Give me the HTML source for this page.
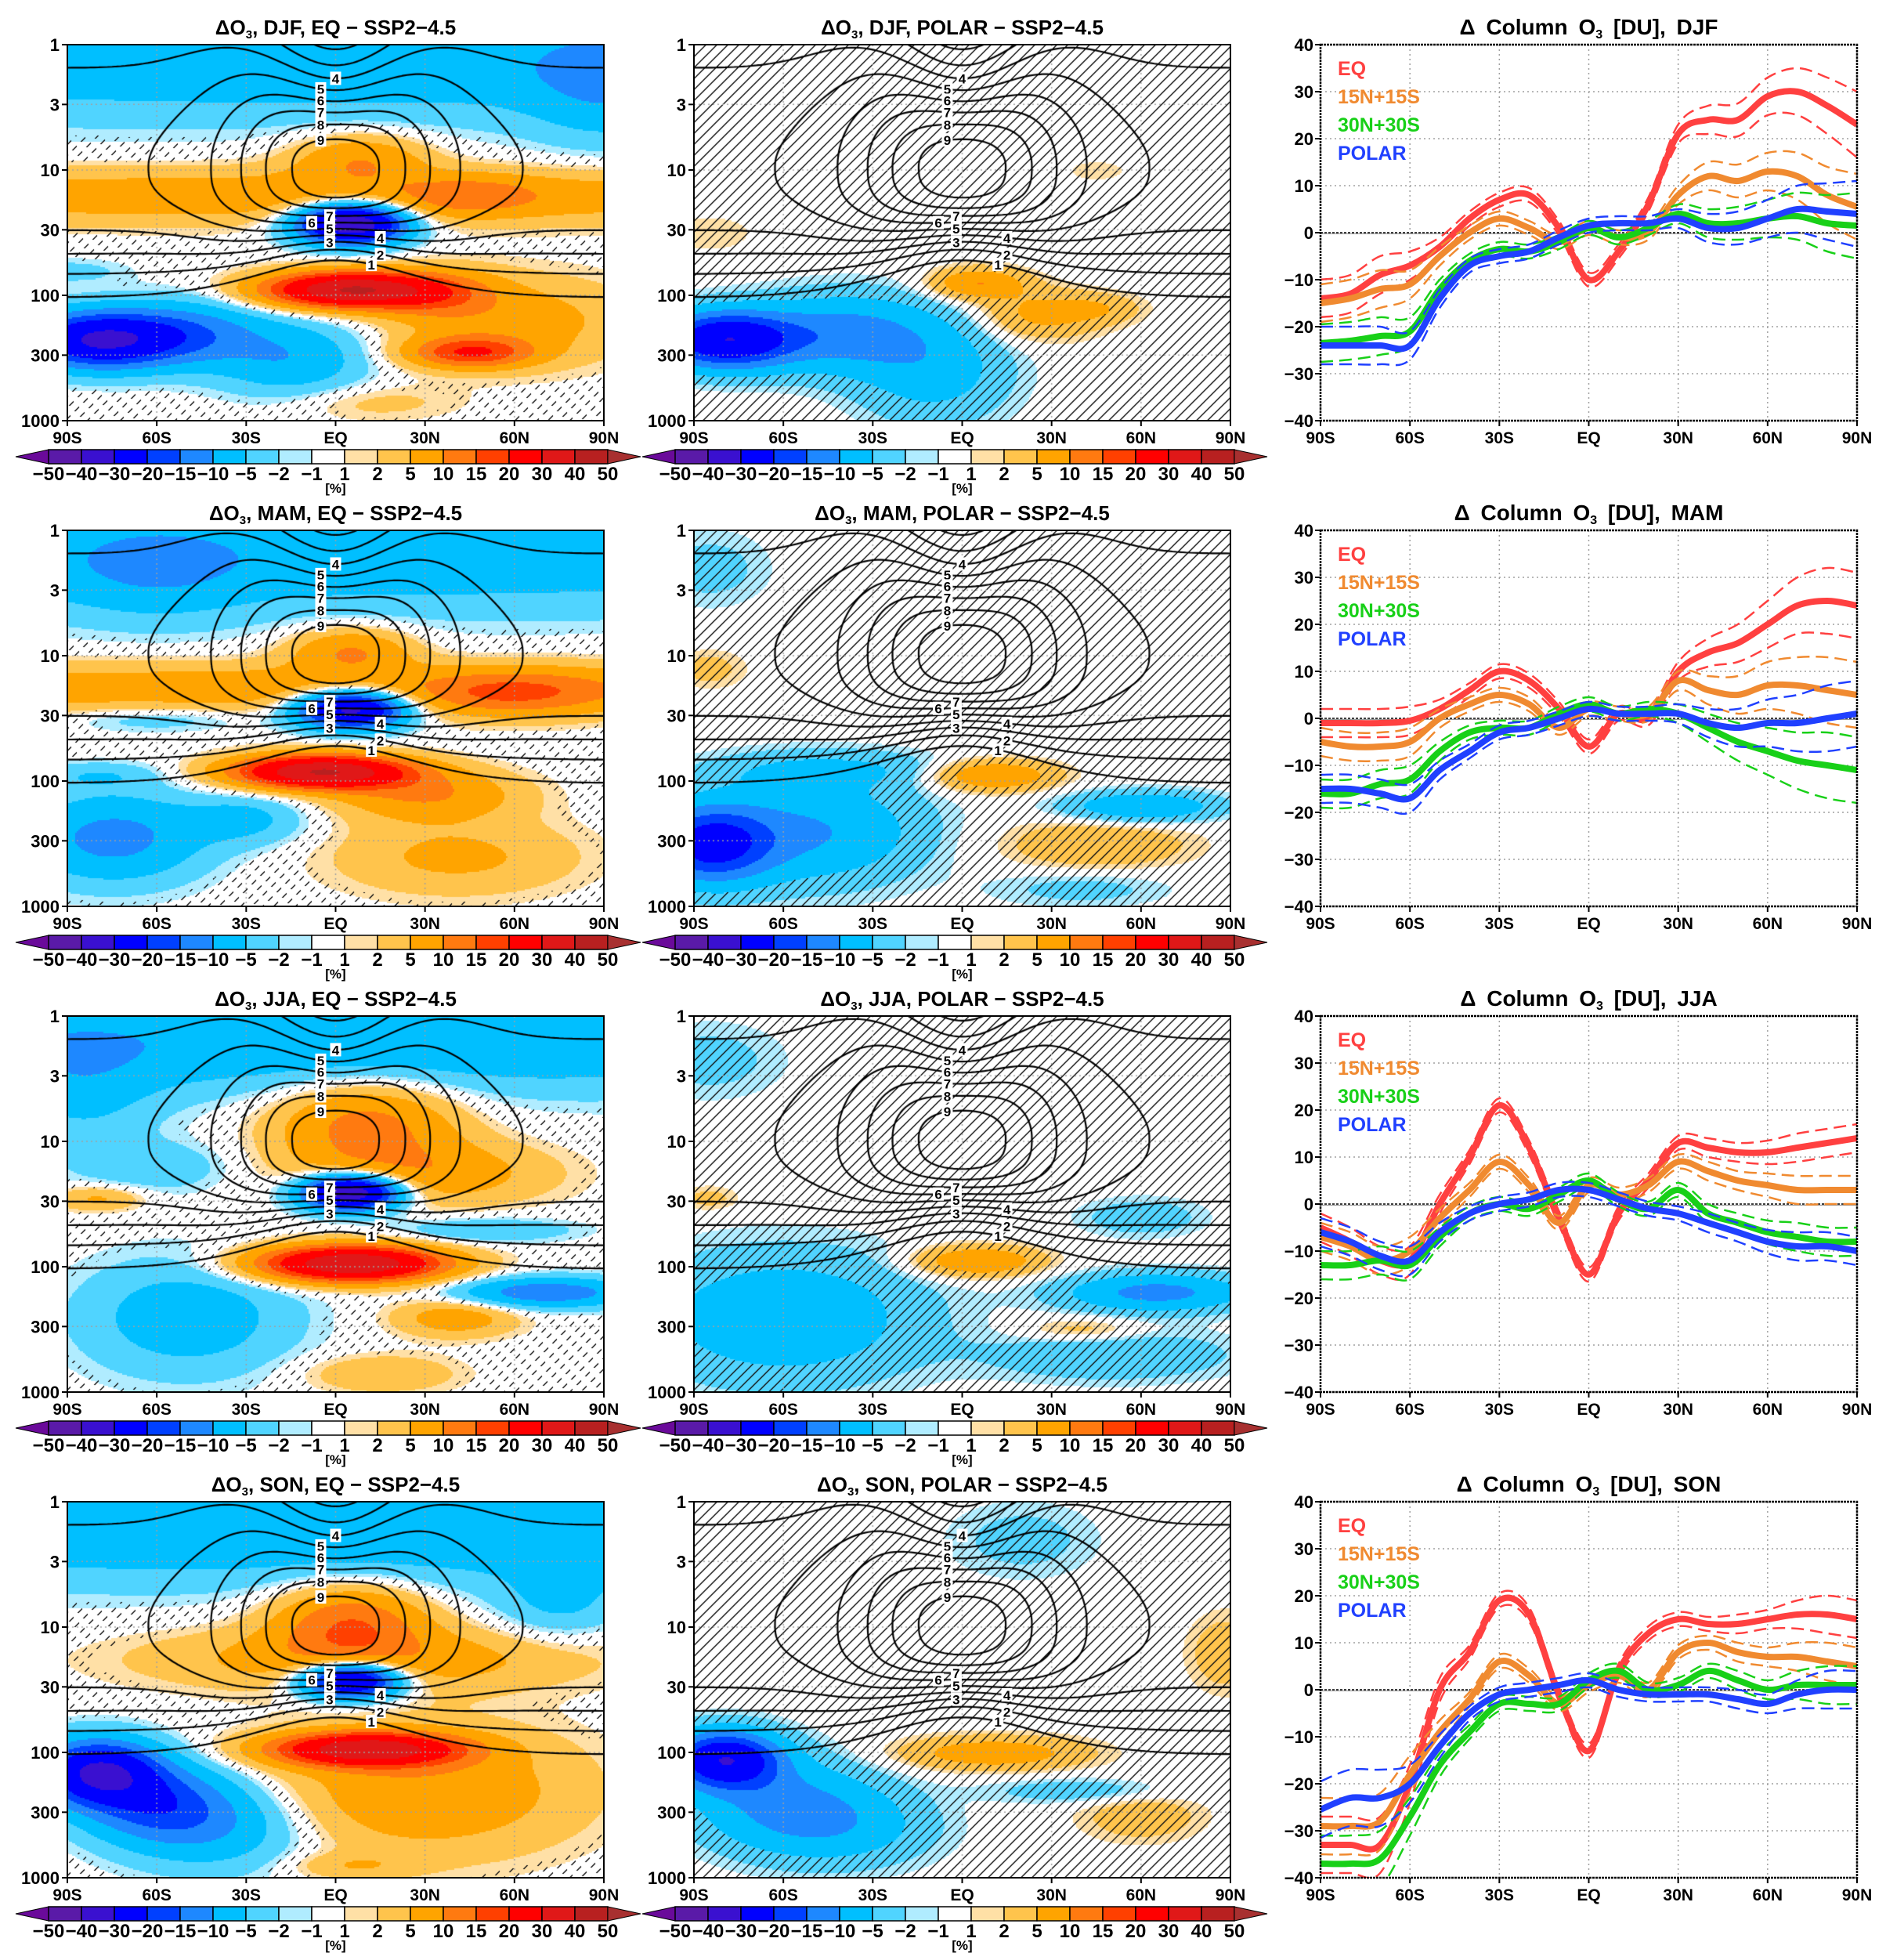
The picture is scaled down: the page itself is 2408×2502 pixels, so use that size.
<!DOCTYPE html>
<html><head><meta charset="utf-8">
<style>
html,body{margin:0;padding:0;background:#fff;}
#wrap{position:relative;width:2408px;height:2502px;overflow:hidden;}
canvas{position:absolute;}
svg{position:absolute;left:0;top:0;}
text{font-family:"Liberation Sans",sans-serif;font-weight:bold;}
</style></head>
<body>
<div id="wrap">
<svg id="svg" width="2408" height="2502"></svg>
</div>
<script>
// ---------- Line chart data (column ozone change, DU) ----------
const lats = [-90,-80,-70,-60,-50,-40,-30,-20,-10,0,10,20,30,40,50,60,70,80,90];
const seasons = ["DJF","MAM","JJA","SON"];
const eqDJF   = [-14,-13,-9,-7,-3,3,7,8,1,-10,-4,6,21,24,24,29,30,27,23];
const b15DJF  = [-15,-14,-12,-11,-5,0,3,1,-2,1,-1,0,8,12,11,13,12,8,5.5];
const b30DJF  = [-23.5,-23,-22,-21,-12,-6,-3.5,-4,-2,1,-1,1,4,2,2,3,3.5,2,1.5];
const polDJF  = [-24,-24,-24,-24,-14,-7,-5,-4,-1,1.5,2,2,3,1,1,3,5,4.5,4];
const sprDJF  = [4,4,4,3,2,1.5,1.5,1.5,1.5,1.5,1.5,1.5,2,3,3.5,4,5,6,7];
const eqMAM   = [-1,-1,-1,-0.5,2,6,10,8,2,-6,1,0,10,14,16,20,24,25,24];
const b15MAM  = [-5,-6,-6,-5,0,3,5,3,-2,2,1,1,8,6,5,7,7,6,5];
const b30MAM  = [-16,-16,-14,-13,-7,-3,-2,-2,1,3,1,2,1,-2,-5,-7,-9,-10,-11];
const polMAM  = [-15,-15,-16,-17,-11,-7,-3,-2,0,2,1,1,1,-1,-2,-1,-1,0,1];
const sprMAM  = [3,3,3,3,2,1.5,1.5,1.5,1.5,1.5,1.5,1.5,2,3,4,5,6,7,7];
const eqJJA   = [-5,-8,-12,-12,0,10,21,12,-3,-15,-2,5,13,12,11,11,12,13,14];
const b15JJA  = [-7,-9,-12,-10,-3,3,9,4,-4,4,2,4,9,7,5,4,3,3,3];
const b30JJA  = [-13,-13,-12,-13,-7,-2,0,-1,2,5,1,-1,3,-2,-4,-6,-7,-8,-8];
const polJJA  = [-6,-8,-11,-12,-6,-2,0,1,3,3,1,-1,-2,-4,-6,-8,-9,-9,-10];
const sprJJA  = [3,3,3,3,2,1.5,1.5,1.5,1.5,1.5,1.5,1.5,1.5,2,2,2.5,3,3,3];
const eqSON   = [-33,-33,-33,-20,0,8,19,16,-1,-13,4,12,15,14,14,15,16,16,15];
const b15SON  = [-29,-29,-28,-18,-9,-2,6,3,-3,1,3,0,8,10,8,7,7,6,5];
const b30SON  = [-37,-37,-36,-27,-16,-9,-3,-3,-3,2,4,0,1,4,2,0,1,1,1];
const polSON  = [-25.5,-23,-23,-20,-12,-5,-1,0,1,2,0,-1,-1,-1,-2,-3,-1,0,0];
const sprSON  = [6,6,6,4,2.5,1.5,1.5,1.5,1.5,1.5,1.5,1.5,1.5,1.5,2,2,3,4,4];
const seriesBySeason = [[eqDJF,b15DJF,b30DJF,polDJF],[eqMAM,b15MAM,b30MAM,polMAM],[eqJJA,b15JJA,b30JJA,polJJA],[eqSON,b15SON,b30SON,polSON]];
const spreadBySeason = [sprDJF,sprMAM,sprJJA,sprSON];
const seriesNames = ["EQ","15N+15S","30N+30S","POLAR"];
const seriesColors = ["#ff4040","#f08a30","#18d018","#2040ff"];
const yTicks = [40,30,20,10,0,-10,-20,-30,-40];
const xTickLats = [-90,-60,-30,0,30,60,90];
const xTickLabels = ["90S","60S","30S","EQ","30N","60N","90N"];
const pTicks = [1,3,10,30,100,300,1000];
const cbBounds = [-50,-40,-30,-20,-15,-10,-5,-2,-1,1,2,5,10,15,20,30,40,50];
const cbColors = ["#6a0a9a","#5a1aa8","#3a10d0","#0000ff","#0040ff","#1e88ff","#00bfff","#50d4ff","#b0ecff","#ffffff","#ffe0a6","#ffc44c","#ffa400","#ff7a10","#ff4000","#ff0000","#e01818","#b82020","#a83030"];

// ---------- Field blobs [lat, log10p, amp(%), wlat, wlogp] ----------
const fEqDJF = [[0,0.15,-8,300,0.45],[90,0.3,-6,25,0.5],[0,1.2,8,300,0.22],[45,1.2,7,22,0.15],[8,0.9,9,22,0.2],[5,1.42,-40,18,0.16],[5,1.95,40,28,0.14],[35,2.0,8,20,0.2],[-80,2.35,-30,25,0.22],[-50,2.3,-12,25,0.25],[-15,2.5,-9,25,0.3],[45,2.45,18,20,0.12],[60,2.2,7,40,0.35],[10,2.85,3,30,0.15],[-90,1.8,-3,20,0.1]];
const fEqMAM = [[0,0.2,-8,300,0.45],[-60,0.3,-5,30,0.4],[0,1.25,8,300,0.2],[60,1.3,10,30,0.18],[5,0.95,10,20,0.18],[5,1.42,-35,18,0.15],[-5,1.92,40,28,0.13],[30,2.1,10,30,0.2],[-75,2.45,-12,30,0.35],[-30,2.3,-6,20,0.2],[40,2.6,6,40,0.3],[-80,1.95,-4,20,0.1],[-60,1.5,-4,30,0.1]];
const fEqJJA = [[0,0.2,-9,300,0.4],[10,0.85,12,30,0.35],[30,1.25,8,40,0.25],[5,1.4,-40,16,0.14],[5,1.97,40,30,0.14],[-85,0.6,-5,25,0.5],[-80,1.45,6,15,0.1],[-60,1.2,-4,25,0.2],[-50,2.4,-8,35,0.45],[70,2.2,-14,30,0.12],[40,2.4,8,20,0.15],[15,2.85,5,25,0.15],[50,1.7,-5,30,0.1]];
const fEqSON = [[0,0.2,-9,300,0.45],[5,0.95,14,25,0.3],[10,1.25,8,70,0.25],[5,1.42,-35,16,0.14],[10,1.97,35,30,0.13],[30,2.3,9,50,0.5],[-80,2.15,-30,20,0.25],[-60,2.4,-15,25,0.3],[-40,2.6,-8,30,0.35],[75,0.8,-5,20,0.3],[5,2.9,4,20,0.1]];
const fPolDJF = [[-80,2.35,-28,22,0.22],[-40,2.3,-12,30,0.3],[-10,2.6,-7,25,0.4],[5,1.9,10,15,0.12],[25,2.15,6,20,0.2],[45,2.1,4,15,0.12],[-85,1.5,2,15,0.15],[45,1.0,2,10,0.08]];
const fPolMAM = [[-85,2.5,-22,20,0.3],[-50,2.4,-10,35,0.4],[-45,1.9,-5,40,0.15],[-85,0.3,-3,20,0.3],[-85,1.1,3,12,0.15],[10,1.95,10,20,0.12],[60,2.2,-10,25,0.12],[45,2.5,5,30,0.2],[40,2.85,-3,30,0.15]];
const fPolJJA = [[-60,2.4,-9,45,0.5],[-85,0.35,-3,25,0.3],[-85,1.45,3,10,0.1],[5,1.95,10,20,0.12],[65,2.2,-12,30,0.15],[50,2.7,-5,40,0.2],[60,1.6,-4,20,0.15],[40,2.5,4,20,0.1]];
const fPolSON = [[-80,2.05,-28,18,0.22],[-60,2.4,-10,30,0.35],[-40,2.6,-6,30,0.3],[10,2.0,8,30,0.13],[20,0.3,-3,25,0.3],[88,1.2,4,12,0.3],[60,2.5,4,20,0.2],[40,2.3,-4,30,0.1]];
const eqFields = [fEqDJF,fEqMAM,fEqJJA,fEqSON];
const polFields = [fPolDJF,fPolMAM,fPolJJA,fPolSON];
const contourLevels = [1,2,3,4,5,6,7,8,9];
const lowerLabelLats = [12,15,-2,15,-2,-8,-2];

// ---------- layout ----------
const colX = [86,886,1686], rowY = [57,677,1297,1917], PW = 685, PH = 480;
const NS = "http://www.w3.org/2000/svg";
const svg = document.getElementById('svg');
const wrap = document.getElementById('wrap');
function el(tag, attrs, parent){ const e=document.createElementNS(NS,tag); for(const k in attrs) e.setAttribute(k,attrs[k]); (parent||svg).appendChild(e); return e; }
function txt(x,y,s,size,anchor,fill,parent){ const t=el('text',{x:x,y:y,'font-size':size,'text-anchor':anchor||'middle'},parent); t.style.fill=fill||'#000'; t.textContent=s; return t; }

function fieldVal(blobs, lat, lp){ let s=0; for(const b of blobs){ const dx=(lat-b[0])/b[3], dy=(lp-b[1])/b[4]; s+=b[2]*Math.exp(-dx*dx-dy*dy);} return s; }
function o3(lat, lp){ const g=Math.exp(-(lat/35)*(lat/35)); const P=4.8+5*g; const d=lp-0.97; const h=1-Math.exp(-(lat/40)*(lat/40));
  if(d<0){ const s=0.74+1.1*h; return P*Math.exp(-(d/s)*(d/s)); } const s=0.57+0.33*h; return P*Math.exp(-Math.pow(d/s,3)); }
function hex(c){ return [parseInt(c.substr(1,2),16),parseInt(c.substr(3,2),16),parseInt(c.substr(5,2),16)]; }
const cbRGB = cbColors.map(hex);
function rgbOf(v){ let i=0; while(i<cbBounds.length && v>=cbBounds[i]) i++; return cbRGB[i]; }

function latX(x0,lat){ return x0 + (lat+90)/180*PW; }
function lpY(y0,lp){ return y0 + lp/3*PH; }

function drawMap(col,row,blobs,title,thr,dashHatch){
  const x0=colX[col], y0=rowY[row];
  const cv=document.createElement('canvas'); cv.width=PW; cv.height=PH;
  cv.style.left=x0+'px'; cv.style.top=y0+'px';
  
  
  wrap.insertBefore(cv, svg);
  const ctx=cv.getContext('2d'); const img=ctx.createImageData(PW,PH);
  for(let y=0;y<PH;y+=2){ for(let x=0;x<PW;x+=2){
    const lat=-90+x/PW*180, lp=y/PH*3; const v=fieldVal(blobs,lat,lp); const c=rgbOf(v); const weak=Math.abs(v)<thr;
    for(let dy=0;dy<2&&y+dy<PH;dy++) for(let dx=0;dx<2&&x+dx<PW;dx++){
      const xx=x+dx, yy=y+dy; let r=c[0],g=c[1],b=c[2];
      if(weak && ((xx+yy)%14)<1.6 && (!dashHatch || ((xx-yy+4000)%22)<11)){ r=g=b=20; }
      const k=(yy*PW+xx)*4; img.data[k]=r; img.data[k+1]=g; img.data[k+2]=b; img.data[k+3]=255; }
  }}
  ctx.putImageData(img,0,0);
  ctx.strokeStyle='#a0a0a0'; ctx.lineWidth=1.5; ctx.setLineDash([2,4]);
  for(const la of [-60,-30,0,30,60]){ const x=latX(0,la); ctx.beginPath(); ctx.moveTo(x,0); ctx.lineTo(x,PH); ctx.stroke(); }
  for(const p of [3,10,30,100,300]){ const y=lpY(0,Math.log10(p)); ctx.beginPath(); ctx.moveTo(0,y); ctx.lineTo(PW,y); ctx.stroke(); }
  ctx.setLineDash([]);
  const NX=121, NY=121; const G=[];
  for(let j=0;j<NY;j++){ G.push([]); for(let i=0;i<NX;i++) G[j].push(o3(-90+i*180/(NX-1), j*3/(NY-1))); }
  ctx.strokeStyle='#000'; ctx.lineWidth=2.2;
  const gx=i=>i*PW/(NX-1), gy=j=>j*PH/(NY-1);
  for(const L of contourLevels){
    ctx.beginPath();
    for(let j=0;j<NY-1;j++) for(let i=0;i<NX-1;i++){
      const a=G[j][i],b=G[j][i+1],c=G[j+1][i+1],d=G[j+1][i];
      const pts=[];
      if((a-L)*(b-L)<0) pts.push([gx(i+(L-a)/(b-a)),gy(j)]);
      if((b-L)*(c-L)<0) pts.push([gx(i+1),gy(j+(L-b)/(c-b))]);
      if((d-L)*(c-L)<0) pts.push([gx(i+(L-d)/(c-d)),gy(j+1)]);
      if((a-L)*(d-L)<0) pts.push([gx(i),gy(j+(L-a)/(d-a))]);
      if(pts.length>=2){ ctx.moveTo(pts[0][0],pts[0][1]); ctx.lineTo(pts[1][0],pts[1][1]); }
      if(pts.length==4){ ctx.moveTo(pts[2][0],pts[2][1]); ctx.lineTo(pts[3][0],pts[3][1]); }
    }
    ctx.stroke();
  }
  const g=el('g',{});  
  function label(la,L,upper){
    let prev=o3(la, upper?0:0.97);
    for(let s=1;s<=300;s++){ const lp = upper? s*0.97/300 : 0.97+s*2.0/300; const v=o3(la,lp);
      if((prev-L)*(v-L)<=0 && prev!==v){ const X=latX(x0,la), Y=lpY(y0,lp);
        el('rect',{x:X-7,y:Y-9,width:14,height:17,fill:'#fff'},g); txt(X,Y+6,String(L),17,'middle',null,g); return; }
      prev=v; }
  }
  for(const L of [4,5,6,7,8,9]) label(L==4?0:-5,L,true);
  for(let L=1;L<=7;L++) label(lowerLabelLats[L-1],L,false);
  el('rect',{x:x0,y:y0,width:PW,height:PH,fill:'none',stroke:'#000','stroke-width':2});
  const ax=el('g',{});  
  for(const p of pTicks){ const y=lpY(y0,Math.log10(p)); el('line',{x1:x0-7,y1:y,x2:x0,y2:y,stroke:'#000','stroke-width':2},ax); txt(x0-10,y+8,String(p),22,'end',null,ax); }
  xTickLats.forEach((la,k)=>{ const x=latX(x0,la); el('line',{x1:x,y1:y0+PH,x2:x,y2:y0+PH+7,stroke:'#000','stroke-width':2},ax); txt(x,y0+PH+29,xTickLabels[k],21,'middle',null,ax); });
  const t=txt(x0+PW/2,y0-13,'',26,'middle');  
  t.innerHTML='ΔO<tspan font-size="15" dy="5">3</tspan><tspan dy="-5">,  '+title.replace(', ',',  ')+'  −  SSP2−4.5</tspan>';
  const cb=el('g',{});  
  const bx=x0-24, by=y0+PH+37, bw=42, bh=18;
  el('polygon',{points:`${bx},${by} ${bx-42},${by+bh/2} ${bx},${by+bh}`,fill:cbColors[0],stroke:'#000','stroke-width':1},cb);
  for(let i=0;i<17;i++) el('rect',{x:bx+i*bw,y:by,width:bw,height:bh,fill:cbColors[i+1],stroke:'#000','stroke-width':1.5},cb);
  const ex=bx+17*bw;
  el('polygon',{points:`${ex},${by} ${ex+42},${by+bh/2} ${ex},${by+bh}`,fill:cbColors[18],stroke:'#000','stroke-width':1},cb);
  cbBounds.forEach((v,i)=>{ txt(bx+i*bw,by+39,(v<0?'−':'')+Math.abs(v),24,'middle',null,cb).setAttribute('font-weight','normal'); });
  txt(x0+PW/2,by+55,'[%]',17,'middle',null,cb);
}

function catmull(pts){ let d='M'+pts[0][0]+','+pts[0][1];
  for(let i=0;i<pts.length-1;i++){ const p0=pts[Math.max(0,i-1)],p1=pts[i],p2=pts[i+1],p3=pts[Math.min(pts.length-1,i+2)];
    d+=' C'+(p1[0]+(p2[0]-p0[0])/6)+','+(p1[1]+(p2[1]-p0[1])/6)+' '+(p2[0]-(p3[0]-p1[0])/6)+','+(p2[1]-(p3[1]-p1[1])/6)+' '+p2[0]+','+p2[1]; }
  return d; }

function drawLines(row){
  const x0=colX[2], y0=rowY[row];
  const yv=v=>y0+(40-v)/80*PH, xv=la=>latX(x0,la);
  const g=el('g',{});  
  for(const v of yTicks){ if(v!==40&&v!==-40&&v!==0) el('line',{x1:x0,y1:yv(v),x2:x0+PW,y2:yv(v),stroke:'#a0a0a0','stroke-width':1.5,'stroke-dasharray':'2 4'},g); }
  for(const la of [-60,-30,0,30,60]) el('line',{x1:xv(la),y1:y0,x2:xv(la),y2:y0+PH,stroke:'#a0a0a0','stroke-width':1.5,'stroke-dasharray':'2 4'},g);
  el('line',{x1:x0,y1:yv(0),x2:x0+PW,y2:yv(0),stroke:'#000','stroke-width':1.5,'stroke-dasharray':'3 2'},g);
  el('line',{x1:x0,y1:yv(0)+1.5,x2:x0+PW,y2:yv(0)+1.5,stroke:'#999','stroke-width':1},g);
  const cp=el('clipPath',{id:'clip'+row},g); el('rect',{x:x0,y:y0,width:PW,height:PH},cp);
  const sp=spreadBySeason[row];
  seriesBySeason[row].forEach((arr,k)=>{
    const col=seriesColors[k];
    const up=catmull(arr.map((v,i)=>[xv(lats[i]),yv(v+sp[i])]));
    const dn=catmull(arr.map((v,i)=>[xv(lats[i]),yv(v-sp[i])]));
    const mn=catmull(arr.map((v,i)=>[xv(lats[i]),yv(v)]));
    const a=el('path',{d:up,fill:'none',stroke:col,'stroke-width':2.5,'stroke-dasharray':'16 8','clip-path':'url(#clip'+row+')'},g);
     
    const b=el('path',{d:dn,fill:'none',stroke:col,'stroke-width':2.5,'stroke-dasharray':'16 8','clip-path':'url(#clip'+row+')'},g);
     
    const m=el('path',{d:mn,fill:'none',stroke:col,'stroke-width':8,'clip-path':'url(#clip'+row+')'},g);
     
  });
  el('rect',{x:x0,y:y0,width:PW,height:PH,fill:'none',stroke:'#000','stroke-width':2.5,'stroke-dasharray':'3 1'},g);
  for(const v of yTicks){ el('line',{x1:x0-7,y1:yv(v),x2:x0,y2:yv(v),stroke:'#000','stroke-width':2},g); txt(x0-9,yv(v)+8,(v<0?'−':'')+Math.abs(v),22,'end',null,g); }
  xTickLats.forEach((la,k)=>{ el('line',{x1:xv(la),y1:y0+PH,x2:xv(la),y2:y0+PH+7,stroke:'#000','stroke-width':2},g); txt(xv(la),y0+PH+29,xTickLabels[k],21,'middle',null,g); });
  const lg=el('g',{},g);  
  seriesNames.forEach((n,k)=>{ const t=txt(x0+22,y0+39+k*36,n,25,'start',seriesColors[k],lg); t.setAttribute('font-weight','normal'); });
  const t=txt(x0+PW/2,y0-13,'',28,'middle',null,g);  
  t.setAttribute('font-weight','normal'); t.setAttribute('word-spacing','6');
  t.innerHTML='Δ Column O<tspan font-size="16" dy="5">3</tspan><tspan dy="-5"> [DU], '+seasons[row]+'</tspan>';
}

for(let r=0;r<4;r++){
  drawMap(0,r,eqFields[r],seasons[r]+', EQ',1.4,true);
  drawMap(1,r,polFields[r],seasons[r]+', POLAR',5,false);
  drawLines(r);
}
</script>
</body></html>
